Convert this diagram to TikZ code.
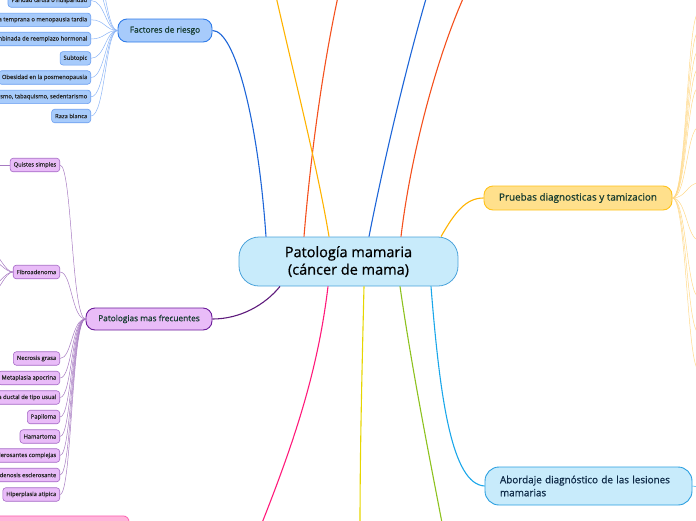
\documentclass[tikz,border=0pt]{standalone}
\usepackage{fontspec}
\setmainfont{Open Sans}
\newfontfamily\medfont{Open Sans}[FakeBold=0.7]
\newfontfamily\subfont{Open Sans}[FakeBold=0.4]
\definecolor{rootfill}{HTML}{C8EBFB}
\definecolor{rootborder}{HTML}{4BA3DB}
\definecolor{topictext}{HTML}{163C30}
\definecolor{subtext}{HTML}{262626}
\definecolor{frfill}{HTML}{A7CBFB}
\definecolor{frborder}{HTML}{2F7BE8}
\definecolor{frline}{HTML}{1E66D8}
\definecolor{frsubborder}{HTML}{6A9EF0}
\definecolor{frsubline}{HTML}{8DB5F6}
\definecolor{ptfill}{HTML}{E9BCF8}
\definecolor{ptborder}{HTML}{6A1B9A}
\definecolor{ptline}{HTML}{5E1B7C}
\definecolor{ptsubborder}{HTML}{A569C6}
\definecolor{ptsubline}{HTML}{A77BC2}
\definecolor{prfill}{HTML}{FFE08C}
\definecolor{prborder}{HTML}{FFC21A}
\definecolor{prline}{HTML}{FFB300}
\definecolor{prsubline}{HTML}{FFD98A}
\definecolor{abborder}{HTML}{2A9FE0}
\definecolor{abline}{HTML}{1BA7EA}
\definecolor{abtext}{HTML}{0E2A47}
\definecolor{redline}{HTML}{F4511E}
\definecolor{pinkline}{HTML}{FF1A7A}
\definecolor{pinkfill}{HTML}{FFB5DA}
\definecolor{pinkborder}{HTML}{FF5FAF}
\definecolor{yellowline}{HTML}{E6D600}
\definecolor{greenline}{HTML}{8DC21F}

\begin{document}
\begin{tikzpicture}[x=1pt,y=-1pt,
    root/.style={draw=rootborder,fill=rootfill,line width=0.8pt,rounded corners=20,minimum width=219,minimum height=49,align=center,font=\medfont\fontsize{14.5}{17.5}\selectfont},
    topic/.style={line width=0.9pt,rounded corners=9,minimum height=23,text=topictext,font=\medfont\fontsize{8.3}{11}\selectfont},
    sub/.style={line width=0.6pt,rounded corners=3,anchor=east,minimum height=13.5,inner xsep=3.5,inner ysep=0,text=subtext,font=\subfont\fontsize{5.8}{7}\selectfont},
    frsub/.style={sub,draw=frsubborder,fill=frfill},
    ptsub/.style={sub,draw=ptsubborder,fill=ptfill},
    mainline/.style={line width=1.1pt},
    subline/.style={line width=0.5pt}]
    \useasboundingbox (0,0) rectangle (696,520);
    \clip (0,0) rectangle (696,520);

    \node[root] (root) at (348.5,261.5) {Patología mamaria\\(cáncer de mama)};

    \node[topic,draw=frborder,fill=frfill,minimum width=94] (fr) at (165,30.5) {Factores de riesgo};
    \node[topic,draw=ptborder,fill=ptfill,minimum width=126,minimum height=22] (pt) at (149,319) {Patologias mas frecuentes};
    \node[topic,draw=prborder,fill=prfill,minimum width=188,minimum height=24,font=\medfont\fontsize{9.9}{12}\selectfont] (pr) at (578,198) {Pruebas diagnosticas y tamizacion};
    \node[topic,draw=abborder,fill=rootfill,minimum width=207,minimum height=38,rounded corners=14,text=abtext,text width=177,align=left,font=\medfont\fontsize{9.9}{13}\selectfont] (ab) at (588.5,486) {Abordaje diagnóstico de las lesiones\\mamarias};
    \node[draw=pinkborder,fill=pinkfill,line width=0.8pt,rounded corners=6,anchor=north east,minimum width=150,minimum height=24] (pk) at (129.5,515.5) {};

    \node[frsub] (fr1) at (91,0.5) {Paridad tardia o nuliparidad};
    \node[frsub] (fr2) at (91,19.8) {Menarquia temprana o menopausia tardia};
    \node[frsub] (fr3) at (91,39) {Terapia combinada de reemplazo hormonal};
    \node[frsub] (fr4) at (91,58.3) {Subtopic};
    \node[frsub] (fr5) at (91,77.5) {Obesidad en la posmenopausia};
    \node[frsub] (fr6) at (91,96.8) {Alcoholismo, tabaquismo, sedentarismo};
    \node[frsub] (fr7) at (91,116) {Raza blanca};
    \coordinate (fr8) at (91,-18);
    \coordinate (fr9) at (91,-37);
    \foreach \i in {1,...,9}
        \draw[subline,frsubline] (fr\i.east) .. controls +(14,0) and +(-12,0) .. (fr.west);

    \node[ptsub] (pt1) at (60,165) {Quistes simples};
    \node[ptsub] (pt2) at (60,272) {Fibroadenoma};
    \node[ptsub] (pt3) at (60,358.5) {Necrosis grasa};
    \node[ptsub] (pt4) at (60,378) {Metaplasia apocrina};
    \node[ptsub] (pt5) at (60,397.5) {Hiperplasia ductal de tipo usual};
    \node[ptsub] (pt6) at (60,417) {Papiloma};
    \node[ptsub] (pt7) at (60,436.5) {Hamartoma};
    \node[ptsub] (pt8) at (60,455.5) {Lesiones esclerosantes complejas};
    \node[ptsub] (pt9) at (60,475) {Adenosis esclerosante};
    \node[ptsub] (pt10) at (60,494.5) {Hiperplasia atipica};
    \foreach \i in {1,...,10}
        \draw[subline,ptsubline] (pt\i.east) .. controls +(12,0) and +(-14,0) .. (pt.west);

    \coordinate (qs1) at (-6,165);
    \draw[subline,ptsubline] (pt1.west) -- (qs1);
    \foreach \y [count=\i] in {252,260,286,294}
        \coordinate (fb\i) at (-8,\y);
    \foreach \i in {1,...,4}
        \draw[subline,ptsubline] (pt2.west) .. controls +(-8,0) and +(6,0) .. (fb\i);

    \foreach \y [count=\i] in {12,31,50,68,87,127,183,240,297,333,370}
        \coordinate (pr\i) at (699,\y);
    \foreach \i in {1,...,11}
        \draw[subline,prsubline] (pr.east) .. controls +(14,0) and +(-12,0) .. (pr\i);

    \coordinate (ab1) at (700,487);
    \draw[subline,abline] (ab.east) -- (ab1);

    \draw[mainline,frline] ([xshift=-82.5pt]root.north) .. controls (258,120) and (235,30.5) .. (fr.east);
    \draw[mainline,prline] ([xshift=92.5pt]root.north) .. controls (455,212) and (466,198) .. (pr.west);
    \draw[mainline,ptline] ([xshift=-68.5pt]root.south) .. controls (265,305) and (240,319) .. (pt.east);
    \draw[mainline,abline] ([xshift=82.5pt]root.south) .. controls (440,400) and (452,484) .. (ab.west);

    \coordinate (up1) at (339,-8);
    \coordinate (up2) at (275,-8);
    \coordinate (up3) at (428,-8);
    \coordinate (up4) at (466,-8);
    \draw[mainline,redline] ([xshift=-44.5pt]root.north) .. controls (311,150) and (324,60) .. (up1);
    \draw[mainline,prline] ([xshift=-19.5pt]root.north) .. controls (318,170) and (295,80) .. (up2);
    \draw[mainline,frline] ([xshift=20.5pt]root.north) .. controls (382,170) and (405,70) .. (up3);
    \draw[mainline,redline] ([xshift=52.5pt]root.north) .. controls (410,160) and (435,60) .. (up4);

    \coordinate (dn1) at (260,528);
    \coordinate (dn2) at (360,528);
    \coordinate (dn3) at (443,528);
    \draw[mainline,pinkline] ([xshift=-20.5pt]root.south) .. controls (318,370) and (295,440) .. (dn1);
    \draw[mainline,yellowline] ([xshift=15.5pt]root.south) .. controls (362,370) and (360,450) .. (dn2);
    \draw[mainline,greenline] ([xshift=51.5pt]root.south) .. controls (412,370) and (430,460) .. (dn3);
\end{tikzpicture}
\end{document}
